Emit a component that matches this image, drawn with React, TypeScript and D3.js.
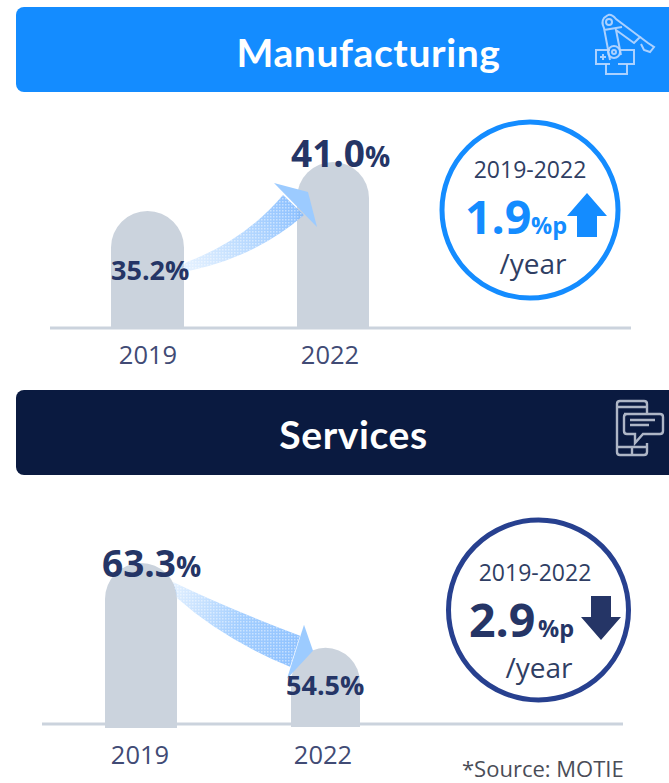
import React from "react";
import * as d3 from "d3";

const years = ["2019", "2022"];
const manufacturingValues = [35.2, 41.0];
const servicesValues = [63.3, 54.5];
const manufacturingChange = "1.9";
const servicesChange = "2.9";
const periodLabel = "2019-2022";
const sourceLabel = "*Source: MOTIE";

const LABEL_FONT = "'Open Sans', 'Noto Sans', sans-serif";
const TITLE_FONT = "Lato, 'Open Sans', sans-serif";
const NAVY = "#253566";
const BAR = "#CBD3DD";
const BLUE = "#148CFF";
const DARK = "#0A1A40";

function barPath(x: number, w: number, top: number, bottom: number) {
  const r = w / 2;
  const p = d3.path();
  p.moveTo(x, bottom);
  p.lineTo(x, top + r);
  p.arc(x + r, top + r, r, Math.PI, 0);
  p.lineTo(x + w, bottom);
  p.closePath();
  return p.toString();
}

type Pt = [number, number];

function Arrow({ id, a, b, up }: { id: string; a: Pt; b: Pt; up: boolean }) {
  const A = (dx: number, dy: number): Pt => [a[0] + dx, a[1] + dy];
  const B = (dx: number, dy: number): Pt => [b[0] + dx, b[1] + dy];
  const g = up
    ? { us: A(3, 51), uc: A(61, 29), ue: B(-14, 33), ls: A(-12, 63), lc: A(66, 51), le: B(7, 53), h1: B(-23, 21), h2: B(11, 30), h3: B(20, 65) }
    : { us: A(-4, 19), uc: A(50, 45), ue: B(9, -12), ls: A(0, 35), lc: A(46, 76), le: B(-1, 19), h1: B(13, -23), h2: B(22, 3), h3: B(-4, 31) };
  const body = d3.path();
  body.moveTo(...g.us);
  body.quadraticCurveTo(g.uc[0], g.uc[1], g.ue[0], g.ue[1]);
  body.lineTo(...g.le);
  body.quadraticCurveTo(g.lc[0], g.lc[1], g.ls[0], g.ls[1]);
  body.closePath();
  const head = d3.path();
  head.moveTo(...g.h1);
  head.lineTo(...g.h2);
  head.lineTo(...g.h3);
  head.closePath();
  return (
    <g>
      <defs>
        <linearGradient id={id} gradientUnits="userSpaceOnUse" x1={g.us[0]} y1={g.us[1]} x2={g.ue[0]} y2={g.ue[1]}>
          <stop offset="0" stopColor="#8FC4FF" stopOpacity={0.25} />
          <stop offset="0.55" stopColor="#85BEFF" stopOpacity={up ? 0.6 : 0.75} />
          <stop offset="1" stopColor="#7DB8FF" stopOpacity={0.85} />
        </linearGradient>
        <pattern id={id + "p"} width={3} height={3} patternUnits="userSpaceOnUse">
          <rect width={1.5} height={1.5} fill="#fff" fillOpacity={0.45} />
        </pattern>
      </defs>
      <path d={body.toString()} fill={`url(#${id})`} />
      <path d={body.toString()} fill={`url(#${id}p)`} />
      <path d={head.toString()} fill="#9CCBFF" />
    </g>
  );
}

function ValueLabel({ x, y, value, size, pctSize }: { x: number; y: number; value: number; size: number; pctSize: number }) {
  return (
    <text x={x} y={y} fontFamily={LABEL_FONT} fontWeight={700} fontSize={size} fill={NAVY}>
      {value.toFixed(1)}
      <tspan fontSize={pctSize}>%</tspan>
    </text>
  );
}

function Panel(props: {
  id: string; values: number[]; domain: [number, number]; baseline: number; yTop: number;
  xCenters: number[]; widths: number[]; bottoms: number[]; axis: [number, number];
  labelBaseline: number; labelCenters: number[]; up: boolean; labels: { x: number; y: number; size: number; pct: number }[];
}) {
  const { id, values, domain, baseline, yTop, xCenters, widths, bottoms, axis, labelBaseline, labelCenters, up, labels } = props;
  const y = d3.scaleLinear().domain(domain).range([baseline, yTop]);
  const x = d3.scaleOrdinal<string, number>().domain(years).range(xCenters);
  const xLabel = d3.scaleOrdinal<string, number>().domain(years).range(labelCenters);
  return (
    <g>
      <line x1={axis[0]} x2={axis[1]} y1={baseline} y2={baseline} stroke={BAR} strokeWidth={3} />
      {years.map((yr, i) => (
        <path key={yr} d={barPath(x(yr) - widths[i] / 2, widths[i], y(values[i]), bottoms[i])} fill={BAR} />
      ))}
      <Arrow
        id={id}
        up={up}
        a={[x(years[0]) + widths[0] / 2, y(values[0])]}
        b={[x(years[1]) - widths[1] / 2, y(values[1])]}
      />
      {years.map((yr) => (
        <text key={yr} x={xLabel(yr)} y={labelBaseline} textAnchor="middle" fontFamily={LABEL_FONT} fontSize={25.5} fill="#414B75">
          {yr}
        </text>
      ))}
      {values.map((v, i) => (
        <ValueLabel key={i} x={labels[i].x} y={labels[i].y} value={v} size={labels[i].size} pctSize={labels[i].pct} />
      ))}
    </g>
  );
}

function Header({ y, fill, title, cx, dy }: { y: number; fill: string; title: string; cx: number; dy: number }) {
  return (
    <g>
      <path d={`M680 ${y}H24a8 8 0 0 0-8 8V${y + 77}a8 8 0 0 0 8 8H680Z`} fill={fill} />
      <text x={cx} y={y + dy} textAnchor="middle" fontFamily={TITLE_FONT} fontWeight={700} fontSize={39} letterSpacing={0.6} fill="#fff">
        {title}
      </text>
    </g>
  );
}

function RobotIcon() {
  return (
    <g fill="none" stroke="#BBD8FF" strokeWidth={2} strokeOpacity={0.9}>
      <path d="M608 15L604 18Q601 22 604 28L610 60M608 15Q612 14 616 19L640 37L634 43L616 30L621 55M604 30L622 27" />
      <circle cx={609} cy={22} r={3} />
      <circle cx={614} cy={52} r={6} />
      <circle cx={614} cy={52} r={2} />
      <path d="M610 50H596V64H610M620 50H634V64H618M600 57H606M603 54V60" />
      <path d="M606 64V74H627V64" />
      <path d="M640 37L648 43L654 47L650 52L644 50L641 44" />
    </g>
  );
}

function PhoneIcon() {
  return (
    <g fill="none" stroke="#AEB6C6" strokeWidth={2.4}>
      <path d="M617 425V404Q617 401 620 401H644Q647 401 647 404V413M617 407H647M617 425V452Q617 455 620 455H644Q647 455 647 452V443M617 447H647M632 447V455" />
      <path d="M624 414H660Q663 414 663 417V431Q663 434 660 434H643L635 443V434H627Q624 434 624 431V417Q624 414 627 414Z" fill={DARK} />
      <path d="M630 420H655M630 425H649" />
    </g>
  );
}

function Badge(props: {
  cx: number; cy: number; r: number; stroke: string; color: string; change: string; unitX: number; valueX: number;
  periodX: number; periodY: number; valueY: number; yearX: number; yearY: number; up: boolean; arrowX: number; arrowY: number; textColor: string;
}) {
  const { cx, cy, r, stroke, color, change, valueX, unitX, periodX, periodY, valueY, yearX, yearY, up, arrowX, arrowY, textColor } = props;
  const dir = up ? 1 : -1;
  const wing = 20, stem = 10, headH = 23, len = 44;
  const arrow = d3.path();
  arrow.moveTo(arrowX, arrowY);
  arrow.lineTo(arrowX + wing, arrowY + dir * headH);
  arrow.lineTo(arrowX + stem, arrowY + dir * headH);
  arrow.lineTo(arrowX + stem, arrowY + dir * len);
  arrow.lineTo(arrowX - stem, arrowY + dir * len);
  arrow.lineTo(arrowX - stem, arrowY + dir * headH);
  arrow.lineTo(arrowX - wing, arrowY + dir * headH);
  arrow.closePath();
  return (
    <g fontFamily={LABEL_FONT}>
      <circle cx={cx} cy={cy} r={r} fill="#fff" stroke={stroke} strokeWidth={5} />
      <text x={periodX} y={periodY} textAnchor="middle" fontSize={23} fill={textColor}>{periodLabel}</text>
      <text x={valueX} y={valueY} fontSize={46.5} fontWeight={700} fill={color}>{change}</text>
      <text x={unitX} y={valueY} fontSize={23.5} fontWeight={700} fill={color}>%p</text>
      <path d={arrow.toString()} fill={color} />
      <text x={yearX} y={yearY} textAnchor="middle" fontSize={28} fill={textColor}>/year</text>
    </g>
  );
}

export default function App() {
  return (
    <svg width={669} height={783} viewBox="0 0 669 783" style={{ position: "absolute", left: 0, top: 0, background: "#fff" }}>
      <Header y={7} fill={BLUE} title="Manufacturing" cx={368.5} dy={60} />
      <RobotIcon />
      <Panel
        id="mfg"
        values={manufacturingValues}
        domain={[21.35, 41.0]}
        baseline={328}
        yTop={162}
        xCenters={[147.5, 333]}
        labelCenters={[148, 330]}
        widths={[73, 72]}
        bottoms={[328, 328]}
        axis={[50, 631]}
        labelBaseline={364}
        up
        labels={[
          { x: 111, y: 280, size: 27, pct: 27 },
          { x: 291, y: 167, size: 37, pct: 28 },
        ]}
      />
      <Badge cx={530} cy={210} r={88} stroke={BLUE} color={BLUE} change={manufacturingChange} valueX={465} unitX={531} periodX={530} periodY={178} valueY={234} yearX={533} yearY={274} up arrowX={587} arrowY={193} textColor="#2F3E63" />

      <Header y={390} fill={DARK} title="Services" cx={353.5} dy={59} />
      <PhoneIcon />
      <Panel
        id="svc"
        values={servicesValues}
        domain={[46.6, 63.3]}
        baseline={724}
        yTop={563}
        xCenters={[141, 325.5]}
        labelCenters={[140, 323]}
        widths={[72, 69]}
        bottoms={[728, 727]}
        axis={[42, 623]}
        labelBaseline={764}
        up={false}
        labels={[
          { x: 102, y: 577, size: 37, pct: 28 },
          { x: 286, y: 695, size: 27, pct: 27 },
        ]}
      />
      <Badge cx={538.5} cy={610} r={90} stroke="#27408F" color={NAVY} change={servicesChange} valueX={469} unitX={538} periodX={535} periodY={581} valueY={637} yearX={539} yearY={678} up={false} arrowX={601} arrowY={640} textColor="#2F3E63" />
      <text x={462} y={776.5} fontFamily={LABEL_FONT} fontSize={22} fill="#4A4D57">{sourceLabel}</text>
    </svg>
  );
}
